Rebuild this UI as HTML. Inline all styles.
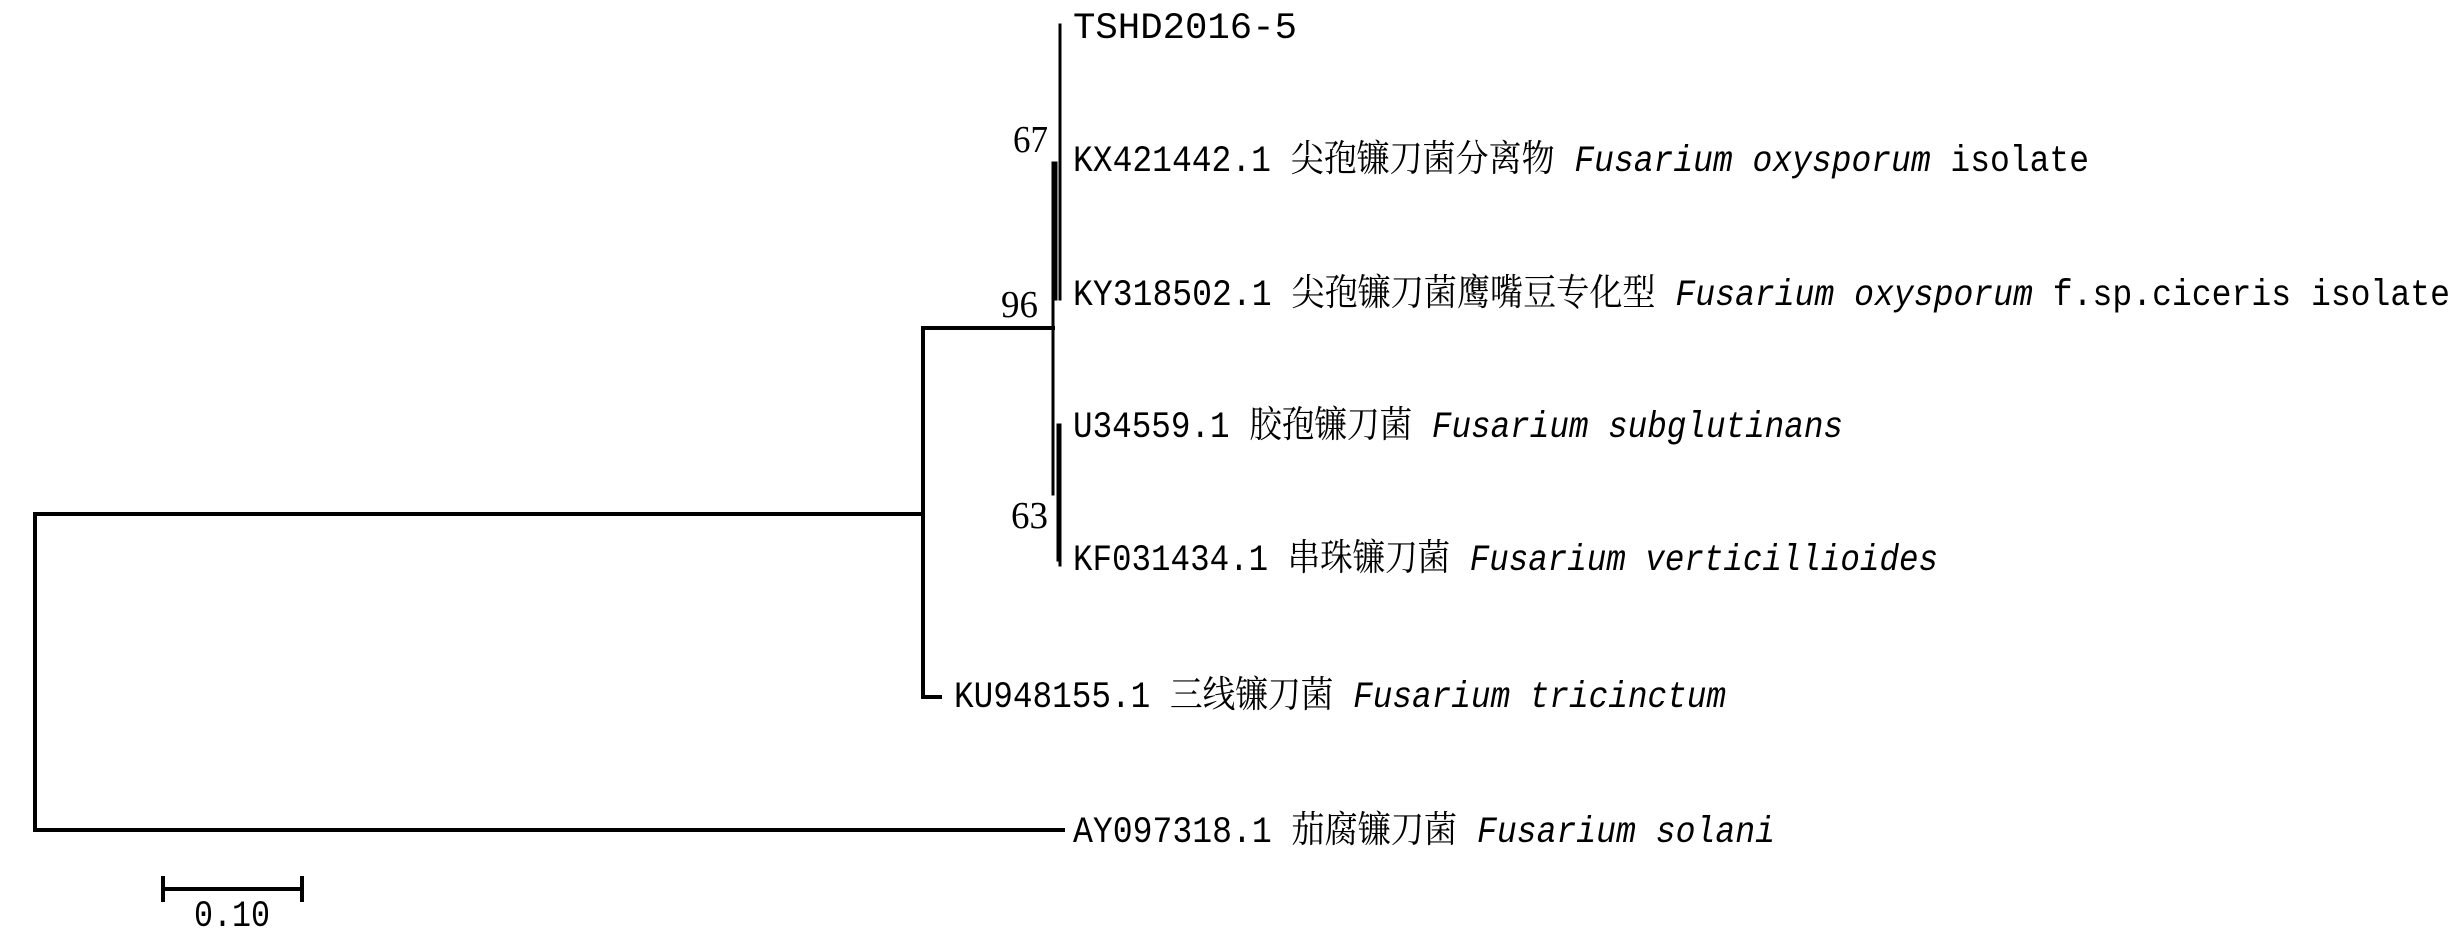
<!DOCTYPE html>
<html><head><meta charset="utf-8"><style>
html,body{margin:0;padding:0;background:#fff;}
svg{display:block;}
text{font-family:"Liberation Mono","Noto Serif CJK SC",monospace;font-size:37px;fill:#000;}
.n{font-family:"Liberation Serif",serif;font-size:38px;}
</style></head><body>
<svg width="2463" height="942" viewBox="0 0 2463 942" xmlns="http://www.w3.org/2000/svg">
<g stroke="#000" stroke-width="4" fill="none" stroke-linecap="square">
<path d="M35 514 V830 M35 514 H923 M35 830 H1063"/>
<path d="M923 328 V697 M923 697 H940 M923 328 H1053"/>
<path d="M1053 163 V494" stroke-width="3"/>
<path d="M1056 163 V299" stroke-width="3"/>
<path d="M1060 25 V299" stroke-width="3"/>
<path d="M1058 425 V560" stroke-width="3"/>
<path d="M1060 425 V565" stroke-width="3"/>
<path d="M163 889 H302 M163 878 V900 M302 878 V900"/>
</g>
<text x="1073" y="38" textLength="224" lengthAdjust="spacingAndGlyphs">TSHD2016-5</text>
<text x="1073" y="171" textLength="1016" lengthAdjust="spacingAndGlyphs">KX421442.1 尖孢镰刀菌分离物 <tspan font-style="italic">Fusarium oxysporum</tspan> isolate</text>
<text x="1073" y="305" textLength="1377" lengthAdjust="spacingAndGlyphs">KY318502.1 尖孢镰刀菌鹰嘴豆专化型 <tspan font-style="italic">Fusarium oxysporum</tspan> f.sp.ciceris isolate</text>
<text x="1073" y="437" textLength="770" lengthAdjust="spacingAndGlyphs">U34559.1 胶孢镰刀菌 <tspan font-style="italic">Fusarium subglutinans</tspan></text>
<text x="1073" y="570" textLength="865" lengthAdjust="spacingAndGlyphs">KF031434.1 串珠镰刀菌 <tspan font-style="italic">Fusarium verticillioides</tspan></text>
<text x="954" y="707" textLength="772" lengthAdjust="spacingAndGlyphs">KU948155.1 三线镰刀菌 <tspan font-style="italic">Fusarium tricinctum</tspan></text>
<text x="1073" y="842" textLength="702" lengthAdjust="spacingAndGlyphs">AY097318.1 茄腐镰刀菌 <tspan font-style="italic">Fusarium solani</tspan></text>
<text class="n" x="1013" y="152" textLength="35" lengthAdjust="spacingAndGlyphs">67</text>
<text class="n" x="1001" y="317" textLength="37" lengthAdjust="spacingAndGlyphs">96</text>
<text class="n" x="1011" y="528" textLength="37" lengthAdjust="spacingAndGlyphs">63</text>
<text x="194" y="926" textLength="76" lengthAdjust="spacingAndGlyphs">0.10</text>
</svg>
</body></html>
